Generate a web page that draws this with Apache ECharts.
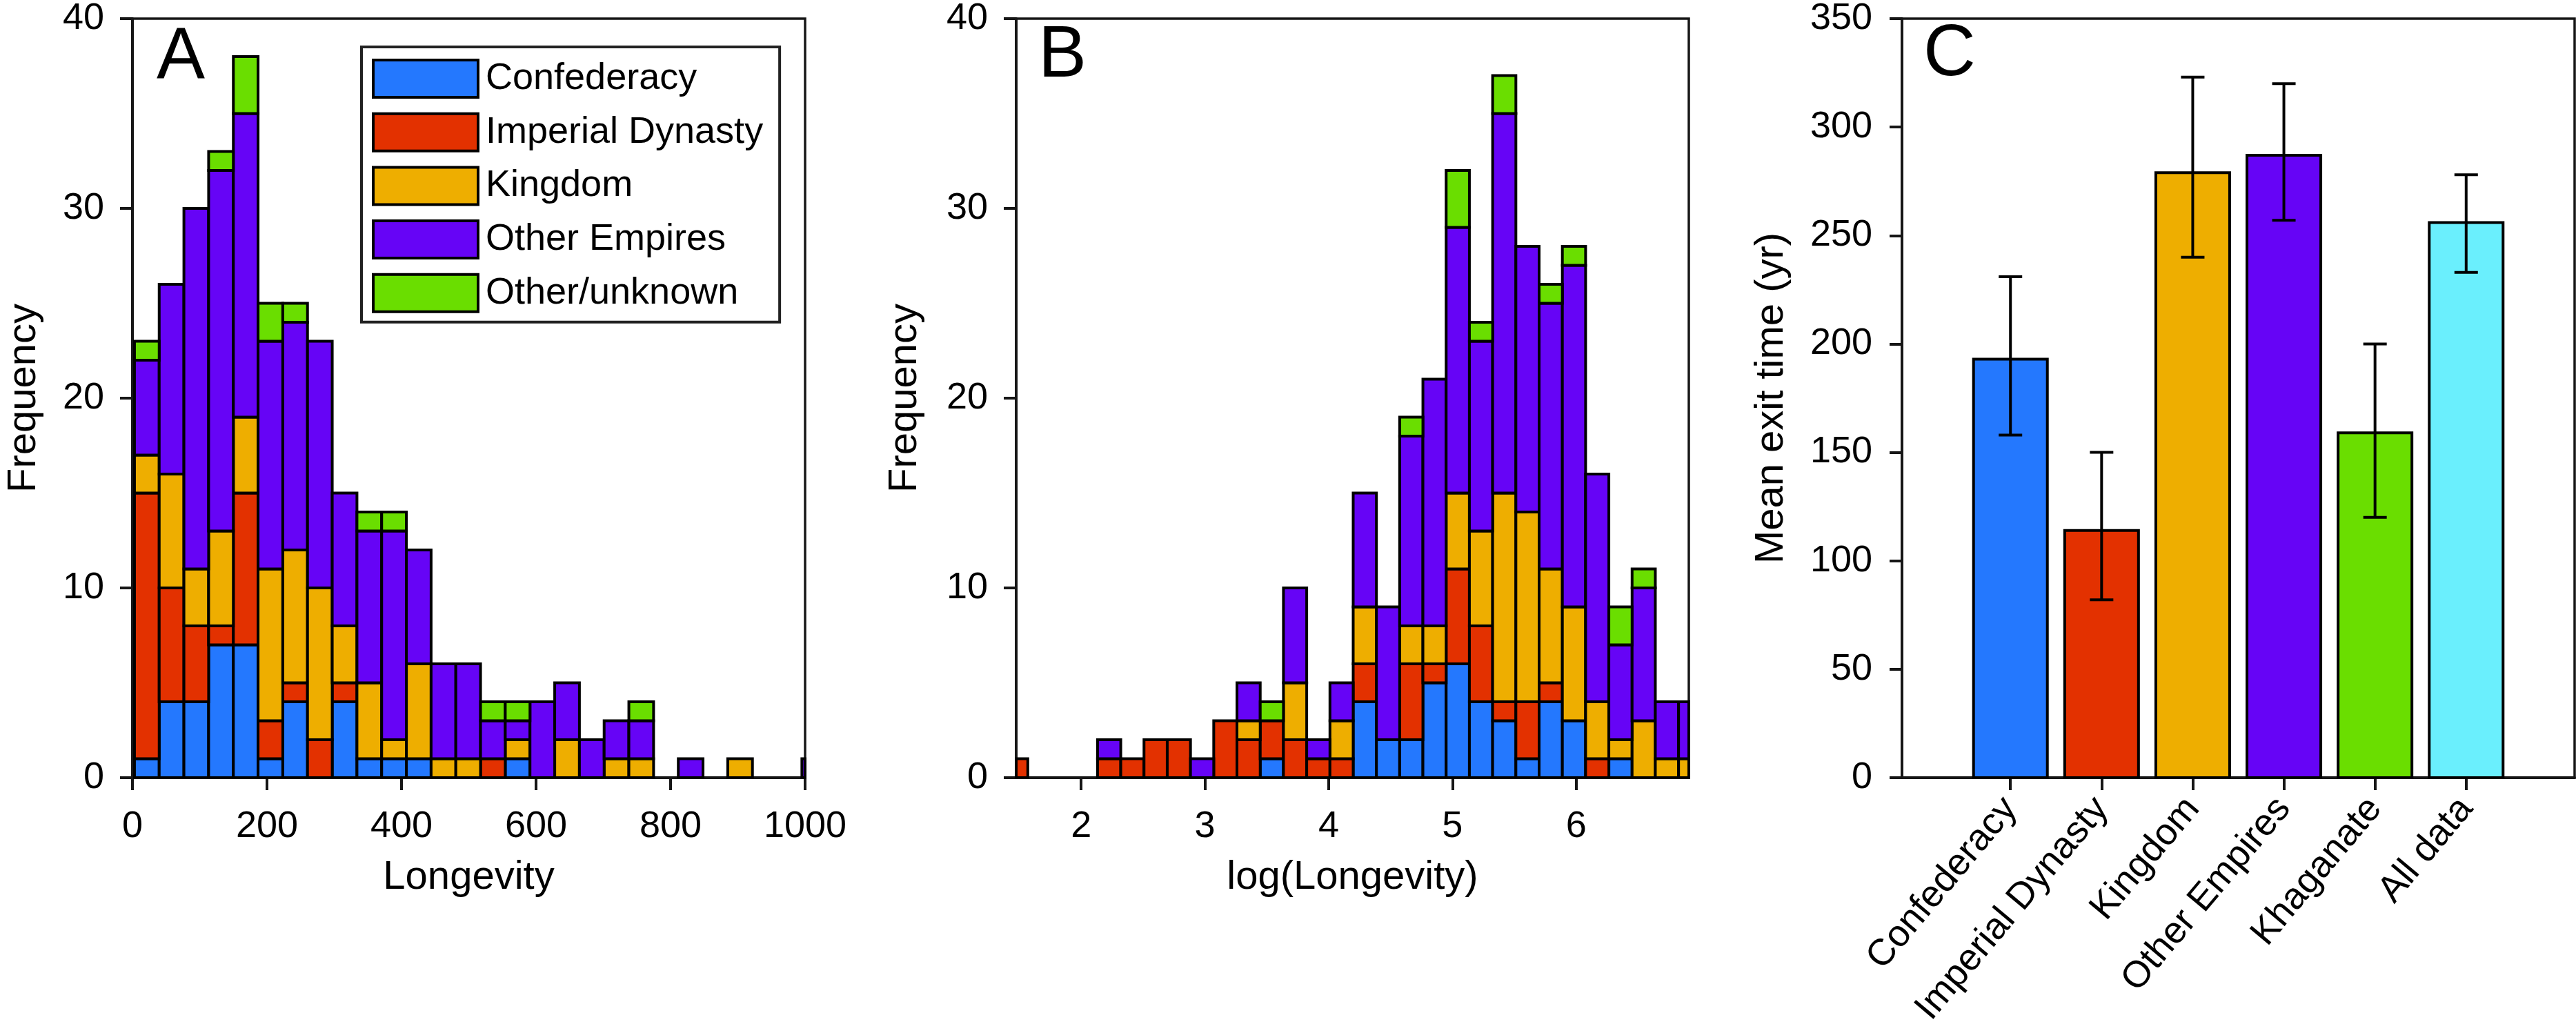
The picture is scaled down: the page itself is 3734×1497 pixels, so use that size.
<!DOCTYPE html>
<html><head><meta charset="utf-8">
<script src="https://cdn.jsdelivr.net/npm/echarts@6/dist/echarts.min.js"></script>
<style>html,body{margin:0;padding:0;background:#fff}#c{width:3734px;height:1497px}</style>
</head><body><div id="c"></div><script>
// ---------- data ----------
const groupNames = ['Confederacy', 'Imperial Dynasty', 'Kingdom', 'Other Empires', 'Other/unknown'];

// Panel A: histogram of Longevity (bin left edge = aBinStart + i*aBinWidth)
const aBinStart = 3;
const aBinWidth = 36.75;
const aConfederacy = [1, 4, 4, 7, 7, 1, 4, 0, 4, 1, 1, 1, 0, 0, 0, 1, 0, 0, 0, 0, 0, 0, 0, 0, 0, 0, 0, 0];
const aImperial    = [14, 6, 4, 1, 8, 2, 1, 2, 1, 0, 0, 0, 0, 0, 1, 0, 0, 0, 0, 0, 0, 0, 0, 0, 0, 0, 0, 0];
const aKingdom     = [2, 6, 3, 5, 4, 8, 7, 8, 3, 4, 1, 5, 1, 1, 0, 1, 0, 2, 0, 1, 1, 0, 0, 0, 1, 0, 0, 0];
const aOtherEmp    = [5, 10, 19, 19, 16, 12, 12, 13, 7, 8, 11, 6, 5, 5, 2, 1, 4, 3, 2, 2, 2, 0, 1, 0, 0, 0, 0, 1];
const aUnknown     = [1, 0, 0, 1, 3, 2, 1, 0, 0, 1, 1, 0, 0, 0, 1, 1, 0, 0, 0, 0, 1, 0, 0, 0, 0, 0, 0, 0];
const aXMin = 0, aXMax = 1000;
const aXTickInterval = 200;

// Panel B: histogram of log(Longevity)
const bBinStart = 1.381;
const bBinWidth = 0.1878;
const bConfederacy = [0, 0, 0, 0, 0, 0, 0, 0, 0, 0, 0, 1, 0, 0, 0, 4, 2, 2, 5, 6, 4, 3, 1, 4, 3, 0, 1, 0, 0, 0];
const bImperial    = [1, 0, 0, 0, 1, 1, 2, 2, 0, 3, 2, 2, 2, 1, 1, 2, 0, 4, 1, 5, 4, 1, 3, 1, 0, 1, 0, 0, 0, 0];
const bKingdom     = [0, 0, 0, 0, 0, 0, 0, 0, 0, 0, 1, 0, 3, 0, 2, 3, 0, 2, 2, 4, 5, 11, 10, 6, 6, 3, 1, 3, 1, 1];
const bOtherEmp    = [0, 0, 0, 0, 1, 0, 0, 0, 1, 0, 2, 0, 5, 1, 2, 6, 7, 10, 13, 14, 10, 20, 14, 14, 18, 12, 5, 7, 3, 3];
const bUnknown     = [0, 0, 0, 0, 0, 0, 0, 0, 0, 0, 0, 1, 0, 0, 0, 0, 0, 1, 0, 3, 1, 2, 0, 1, 1, 0, 2, 1, 0, 0];
const bXMin = 1.475, bXMax = 6.91;
const bXTicks = [2, 3, 4, 5, 6];

// Panel C: mean exit time with error bars
const cCategories = ['Confederacy', 'Imperial Dynasty', 'Kingdom', 'Other Empires', 'Khaganate', 'All data'];
const cMean  = [193, 114, 279, 287, 159, 256];
const cLower = [158, 82, 240, 257, 120, 233];
const cUpper = [231, 150, 323, 320, 200, 278];

// ---------- styles ----------
const groupColors = ['#2478fe', '#e33100', '#eeae00', '#6604f6', '#6ade00'];
const cColors = ['#2478fe', '#e33100', '#eeae00', '#6604f6', '#6ade00', '#6aeffd'];
const FONT = 'Liberation Sans, Arial, Helvetica, sans-serif';
const AX = '#161616';

function histSeries(name, color, counts, base, start, width, gi, xmin, xmax) {
  return {
    type: 'custom', name: name, xAxisIndex: gi, yAxisIndex: gi,
    itemStyle: { color: color, borderColor: '#000', borderWidth: 4 },
    data: counts.map((c, i) => [start + i * width, start + (i + 1) * width, base[i], base[i] + c, c]),
    encode: { x: [0, 1], y: [2, 3] },
    renderItem: function (params, api) {
      const c = api.value(4);
      if (!c) return null;
      const x0 = Math.max(api.value(0), xmin), x1 = Math.min(api.value(1), xmax);
      if (x1 <= x0) return null;
      const p0 = api.coord([x0, api.value(2)]);
      const p1 = api.coord([x1, api.value(3)]);
      return { type: 'rect', shape: { x: p0[0], y: p1[1], width: p1[0] - p0[0], height: p0[1] - p1[1] },
        style: { fill: color, stroke: '#000', lineWidth: 4 } };
    }
  };
}
function stackedSeries(groups, start, width, gi, xmin, xmax) {
  const out = [];
  const base = groups[0].map(() => 0);
  groups.forEach((g, k) => {
    out.push(histSeries(groupNames[k], groupColors[k], g, base.slice(), start, width, gi, xmin, xmax));
    g.forEach((v, i) => { base[i] += v; });
  });
  return out;
}

function yAxisCommon(gi, max, interval, name, gap, labMargin) {
  return {
    type: 'value', gridIndex: gi, min: 0, max: max, interval: interval,
    name: name, nameLocation: 'middle', nameGap: gap, nameRotate: 90, nameMoveOverlap: false,
    nameTextStyle: { fontSize: 58, fontFamily: FONT, color: '#000' },
    axisLine: { show: true, onZero: false, lineStyle: { color: AX, width: 4 } },
    axisTick: { show: true, length: 18, lineStyle: { color: AX, width: 4 } },
    axisLabel: { fontSize: 54, fontFamily: FONT, color: '#000', margin: labMargin },
    splitLine: { show: false }
  };
}
const xName = { fontSize: 58, fontFamily: FONT, color: '#000' };
const xLine = { show: true, onZero: false, lineStyle: { color: AX, width: 4 } };
const xTick = { show: true, length: 18, lineStyle: { color: AX, width: 4 } };
const xLab = { fontSize: 54, fontFamily: FONT, color: '#000', margin: 44 };

const grids = [
  { left: 192, width: 975, top: 27, height: 1100 },
  { left: 1473, width: 975, top: 27, height: 1100 },
  { left: 2757, width: 975, top: 27, height: 1100 }
].map(g => Object.assign(g, { show: true, borderColor: AX, borderWidth: 3.5, backgroundColor: 'transparent' }));

const series = []
  .concat(stackedSeries([aConfederacy, aImperial, aKingdom, aOtherEmp, aUnknown], aBinStart, aBinWidth, 0, aXMin, aXMax))
  .concat(stackedSeries([bConfederacy, bImperial, bKingdom, bOtherEmp, bUnknown], bBinStart, bBinWidth, 1, bXMin, bXMax));

series.push({
  type: 'custom', name: 'cBars', xAxisIndex: 2, yAxisIndex: 2,
  data: cMean.map((m, i) => [i + 1, m]),
  encode: { x: 0, y: 1 },
  renderItem: function (params, api) {
    const x = api.value(0), m = api.value(1);
    const p0 = api.coord([x - 0.405, 0]);
    const p1 = api.coord([x + 0.405, m]);
    return { type: 'rect', shape: { x: p0[0], y: p1[1], width: p1[0] - p0[0], height: p0[1] - p1[1] },
      style: { fill: cColors[params.dataIndex], stroke: '#000', lineWidth: 4 } };
  }
});
series.push({
  type: 'custom', name: 'cErr', xAxisIndex: 2, yAxisIndex: 2,
  data: cMean.map((m, i) => [i + 1, cLower[i], cUpper[i]]),
  encode: { x: 0, y: [1, 2] },
  z: 5,
  renderItem: function (params, api) {
    const x = api.value(0);
    const lo = api.coord([x, api.value(1)]);
    const hi = api.coord([x, api.value(2)]);
    const hw = 17;
    const st = { stroke: '#000', lineWidth: 4 };
    return { type: 'group', children: [
      { type: 'line', shape: { x1: lo[0], y1: lo[1], x2: hi[0], y2: hi[1] }, style: st },
      { type: 'line', shape: { x1: lo[0] - hw, y1: lo[1], x2: lo[0] + hw, y2: lo[1] }, style: st },
      { type: 'line', shape: { x1: hi[0] - hw, y1: hi[1], x2: hi[0] + hw, y2: hi[1] }, style: st }
    ] };
  }
});

const option = {
  animation: false,
  backgroundColor: '#fff',
  grid: grids,
  xAxis: [
    { type: 'value', gridIndex: 0, min: aXMin, max: aXMax, interval: aXTickInterval,
      name: 'Longevity', nameLocation: 'middle', nameGap: 116, nameMoveOverlap: false, nameTextStyle: xName,
      axisLine: xLine, axisTick: xTick,
      axisLabel: Object.assign({ formatter: v => String(v) }, xLab),
      splitLine: { show: false } },
    { type: 'value', gridIndex: 1, min: bXMin, max: bXMax,
      name: 'log(Longevity)', nameLocation: 'middle', nameGap: 116, nameMoveOverlap: false, nameTextStyle: xName,
      axisLine: xLine,
      axisTick: Object.assign({ customValues: bXTicks }, xTick),
      axisLabel: Object.assign({ customValues: bXTicks }, xLab),
      splitLine: { show: false } },
    { type: 'value', gridIndex: 2, min: -0.19, max: 7.19,
      axisLine: xLine,
      axisTick: Object.assign({ customValues: [1, 2, 3, 4, 5, 6] }, xTick),
      axisLabel: Object.assign({}, xLab, { customValues: [1, 2, 3, 4, 5, 6], rotate: 50, margin: 36,
        formatter: v => cCategories[Math.round(v) - 1] || '' }),
      splitLine: { show: false } }
  ],
  yAxis: [
    yAxisCommon(0, 40, 10, 'Frequency', 128, 41),
    yAxisCommon(1, 40, 10, 'Frequency', 132, 41),
    yAxisCommon(2, 350, 50, 'Mean exit time (yr)', 160, 43)
  ],
  legend: {
    data: groupNames, orient: 'vertical', left: 524, top: 68,
    icon: 'rect', itemWidth: 152, itemHeight: 54, itemGap: 19.7,
    padding: [17, 24, 13, 15],
    borderColor: '#222', borderWidth: 4, backgroundColor: '#fff',
    selectedMode: false,
    itemStyle: { borderColor: '#000', borderWidth: 4 },
    textStyle: { fontSize: 54, lineHeight: 54, fontFamily: FONT, color: '#000', padding: [0, 0, 0, 6] }
  },
  graphic: [
    { type: 'text', left: 227, top: 32, style: { text: 'A', font: '105px ' + FONT, fill: '#000' } },
    { type: 'text', left: 1505, top: 30, style: { text: 'B', font: '105px ' + FONT, fill: '#000' } },
    { type: 'text', left: 2788, top: 28, style: { text: 'C', font: '105px ' + FONT, fill: '#000' } }
  ],
  series: series
};
const chart = echarts.init(document.getElementById('c'), null, { renderer: 'canvas' });
chart.setOption(option);
</script></body></html>
